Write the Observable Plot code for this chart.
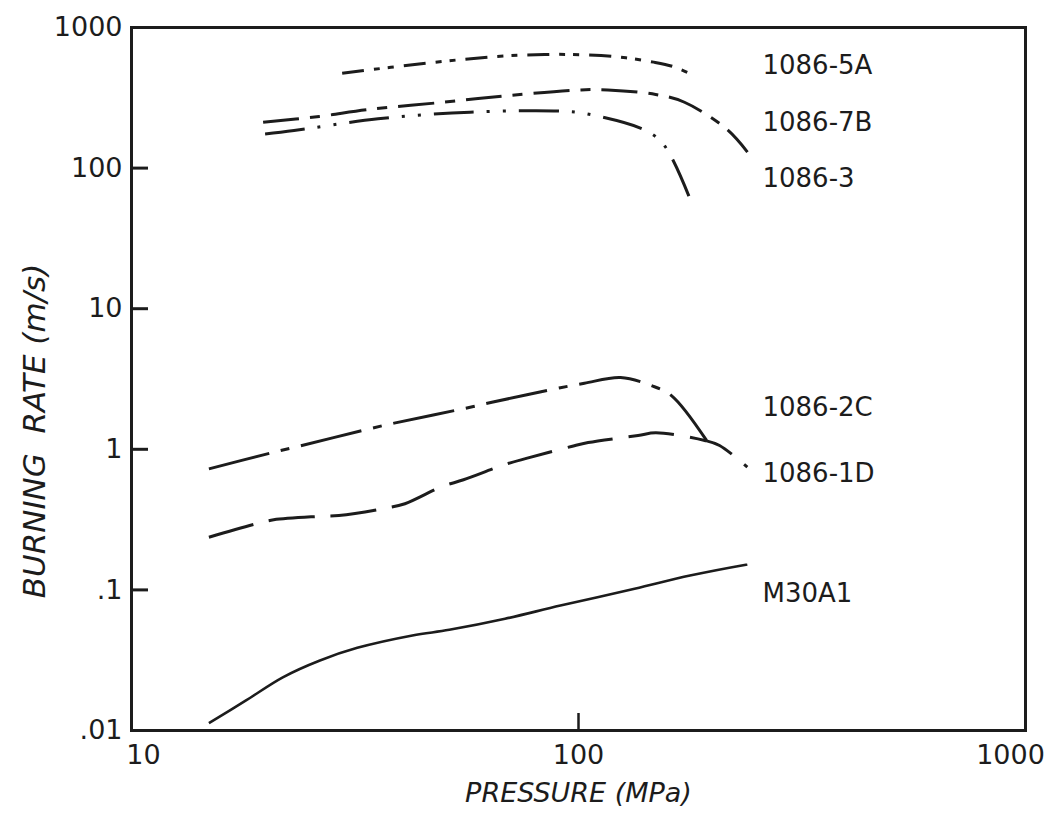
<!DOCTYPE html>
<html>
<head>
<meta charset="utf-8">
<script src="https://cdn.jsdelivr.net/npm/d3@7"></script>
<script src="https://cdn.jsdelivr.net/npm/@observablehq/plot@0.6"></script>
<style>
  html, body { margin: 0; padding: 0; background: #fff; }
</style>
</head>
<body>
<div id="chart"></div>
<script>
// ---- data (pressure in MPa, burning rate in m/s) ----
const seriesNames = ["1086-5A", "1086-7B", "1086-3", "1086-2C", "1086-1D", "M30A1"];

const p5A = [29.6, 45.6, 65.6, 84.0, 95.5, 119.8, 147.3, 162.6, 181.2];
const r5A = [473, 557, 622, 643, 643, 622, 567, 528, 456];

const p7B = [19.7, 26.3, 33.6, 49.8, 69.7, 101.3, 116.3, 148.8, 172.6, 214.3, 238.8];
const r7B = [212, 233, 260, 294, 328, 360, 360, 334, 294, 190, 130];

const p3 = [19.9, 23.1, 35.6, 57.2, 91.8, 104.4, 142.5, 156.3, 177];
const r3 = [175, 185, 224, 250, 254, 243, 183, 142, 62];

const p2C = [14.9, 20.8, 23.2, 34.5, 38.7, 58.2, 64.0, 91.1, 103.1, 124.2, 145.4, 161.4, 193.4];
const r2C = [0.726, 0.953, 1.035, 1.413, 1.535, 2.015, 2.16, 2.74, 2.95, 3.24, 2.84, 2.41, 1.156];

const p1D = [14.9, 19.0, 20.8, 26.2, 29.1, 36.5, 40.9, 49.5, 55.3, 68.5, 76.8, 96.4, 105.1, 135.9, 149, 191.6, 206.8, 238.6];
const r1D = [0.237, 0.295, 0.315, 0.333, 0.338, 0.378, 0.41, 0.543, 0.607, 0.78, 0.865, 1.047, 1.117, 1.253, 1.31, 1.156, 1.064, 0.746];

const pM30 = [14.9, 18.0, 21.8, 26.4, 32.0, 42.5, 51.4, 68.5, 91.1, 133.5, 177.6, 238.6];
const rM30 = [0.0113, 0.0163, 0.0239, 0.0315, 0.0387, 0.0474, 0.052, 0.0623, 0.0774, 0.1018, 0.1265, 0.1517];

// curve label anchors (data coordinates)
const labelX = [258, 258, 258, 258, 258, 258];
const labelY = [537, 211, 84.4, 1.98, 0.673, 0.094];

// ticks
const xTicks = [10, 100, 1000];
const xTickLabels = ["10", "100", "1000"];
const yTicks = [0.01, 0.1, 1, 10, 100, 1000];
const yTickLabels = [".01", ".1", "1", "10", "100", "1000"];

const xTitle = "PRESSURE (MPa)";
const yTitle = "BURNING\u00A0 RATE (m/s)";

// ---- layout ----
const W = 1048, H = 827;
const mL = 131, mR = 23, mT = 27, mB = 97;
const tickLen = 17;

// ---- build ----
const pressures = [p5A, p7B, p3, p2C, p1D, pM30];
const rates = [r5A, r7B, r3, r2C, r1D, rM30];
const dashes = ["22,10,6,8,6,10", "36,11,10,11", "40,13,3,13,3,13", "62,12,9,12", "46,16", null];
const widths = [3, 3, 3, 3, 3, 2.6];
const ink = "#1c1c1c";

const lineMarks = seriesNames.map((name, k) => {
  const rows = pressures[k].map((p, i) => ({p, r: rates[k][i]}));
  return Plot.line(rows, {
    x: "p", y: "r",
    curve: "catmull-rom",
    stroke: ink,
    strokeWidth: widths[k],
    strokeDasharray: dashes[k] ?? undefined,
    strokeLinecap: "butt"
  });
});

const labelRows = seriesNames.map((name, i) => ({name, x: labelX[i], y: labelY[i]}));
const yTickRows = yTicks.map((v, i) => ({v, label: yTickLabels[i]}));
const xTickRows = xTicks.map((v, i) => ({v, label: xTickLabels[i]}));

const xLabelShift = [12, 0, -15];
const xLabelMarks = xTickRows.map((row, i) =>
  Plot.text([row], {
    x: "v",
    text: "label",
    frameAnchor: "bottom",
    lineAnchor: "top",
    dy: 14,
    dx: xLabelShift[i],
    fontSize: 27,
    fill: ink
  })
);

const chart = Plot.plot({
  width: W,
  height: H,
  marginLeft: mL,
  marginRight: mR,
  marginTop: mT,
  marginBottom: mB,
  style: {fontFamily: "DejaVu Sans", background: "#fff", color: ink},
  x: {type: "log", domain: [10, 1000], axis: null},
  y: {type: "log", domain: [0.01, 1000], axis: null},
  marks: [
    Plot.frame({stroke: ink, strokeWidth: 3}),
    // inward tick marks (short stubs from the left and bottom frame edges)
    Plot.ruleY(yTickRows, {y: "v", insetRight: (W - mL - mR) - tickLen, stroke: ink, strokeWidth: 3}),
    Plot.tickX(xTickRows, {x: "v", insetTop: (H - mT - mB) - tickLen, stroke: ink, strokeWidth: 2.5}),
    // tick labels
    Plot.text(yTickRows, {y: "v", text: "label", frameAnchor: "left", textAnchor: "end", dx: -9, fontSize: 27, fill: ink}),
    ...xLabelMarks,
    ...lineMarks,
    Plot.text(labelRows, {x: "x", y: "y", text: "name", textAnchor: "start", fontSize: 26, fill: ink}),
    Plot.text([yTitle], {frameAnchor: "left", textAnchor: "middle", lineAnchor: "middle", rotate: -90, dx: -96, dy: 52, fontSize: 31, fontStyle: "italic", fill: ink}),
    Plot.text([xTitle], {frameAnchor: "bottom", textAnchor: "middle", lineAnchor: "middle", dy: 63, fontSize: 27, fontStyle: "italic", fill: ink})
  ]
});

document.getElementById("chart").appendChild(chart);
</script>
</body>
</html>
